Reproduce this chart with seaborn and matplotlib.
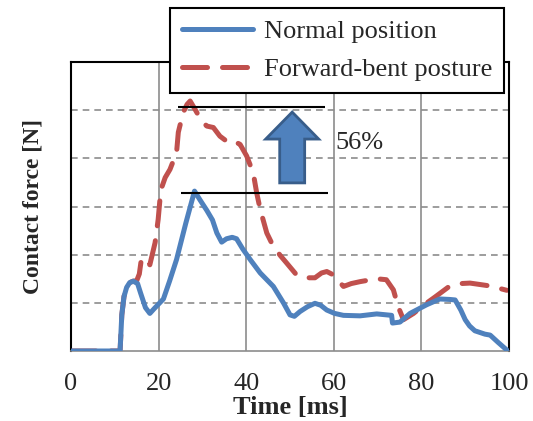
import numpy as np
import pandas as pd
import matplotlib
matplotlib.use("Agg")
import matplotlib.pyplot as plt
import matplotlib.patches as mpatches
import seaborn as sns

# Normal position (values in grid units, axis has no y tick labels)
t_normal = [0, 11.2, 11.6, 12.1, 12.7, 13.4, 14.2, 15.2, 15.9, 17.0, 18.0, 19.0, 21.1,
            22.5, 24.1, 26.2, 28.2, 29.5, 31.0, 32.3, 33.3, 34.4, 35.5, 36.8, 37.8,
            39.2, 40.9, 43.2, 46.2, 48.5, 50.0, 51.0, 52.3, 54.0, 55.7, 57.0, 58.4,
            60.2, 62.2, 66.0, 69.8, 73.2, 73.4, 75.1, 77.4, 79.5, 81.2, 84.2, 86.5,
            87.7, 89.0, 90.0, 91.0, 92.2, 94.5, 95.7, 97.5, 99.5]
f_normal = [0, 0, 0.75, 1.13, 1.32, 1.42, 1.45, 1.40, 1.20, 0.90, 0.78, 0.88, 1.08,
            1.45, 1.90, 2.65, 3.32, 3.13, 2.92, 2.72, 2.45, 2.26, 2.33, 2.36, 2.33,
            2.12, 1.90, 1.62, 1.34, 1.00, 0.75, 0.72, 0.82, 0.92, 0.99, 0.95, 0.85,
            0.78, 0.74, 0.73, 0.77, 0.74, 0.58, 0.60, 0.78, 0.88, 0.96, 1.08, 1.07,
            1.06, 0.85, 0.65, 0.52, 0.42, 0.35, 0.33, 0.18, 0.02]

# Forward-bent posture
t_bent = [0, 11.2, 11.6, 12.1, 12.7, 13.4, 14.2, 15.0, 15.6, 16.1, 17.0, 18.0, 19.2,
          19.9, 20.5, 21.5, 22.6, 24.1, 24.5, 25.6, 26.5, 27.2, 28.3, 29.8, 31.0,
          32.5, 34.0, 35.9, 37.1, 38.6, 40.1, 41.6, 42.4, 43.2, 44.7, 46.2, 47.8,
          49.2, 51.5, 53.5, 55.7, 57.2, 58.4, 59.9, 62.2, 64.0, 66.0, 69.8, 72.0,
          73.6, 74.7, 75.9, 78.2, 80.5, 83.1, 86.5, 89.0, 91.1, 95.7, 99.5]
f_bent = [0, 0, 0.75, 1.13, 1.32, 1.42, 1.45, 1.46, 1.60, 1.93, 1.88, 1.79, 2.25,
          2.73, 3.34, 3.60, 3.77, 4.12, 4.54, 4.95, 5.12, 5.19, 5.02, 4.78, 4.67,
          4.64, 4.46, 4.33, 4.36, 4.29, 4.05, 3.70, 3.28, 2.94, 2.45, 2.17, 1.98,
          1.83, 1.58, 1.52, 1.52, 1.62, 1.65, 1.58, 1.34, 1.40, 1.44, 1.50, 1.48,
          1.27, 0.92, 0.65, 0.78, 0.95, 1.12, 1.35, 1.40, 1.41, 1.35, 1.26]

labels = ["Normal position", "Forward-bent posture"]
blue = "#4F81BD"
red = "#C0504D"

sns.set_style("white")
plt.rcParams["font.family"] = ["Liberation Serif", "DejaVu Serif"]

fig = plt.figure(figsize=(5.33, 4.21), dpi=100)
ax = fig.add_axes([71 / 533, 70 / 421, 438 / 533, 289 / 421])

# grid
for x in [20, 40, 60, 80]:
    ax.axvline(x, color="#8c8c8c", lw=1.2, zorder=0)
for y in [1, 2, 3, 4, 5]:
    ax.axhline(y, color="#8c8c8c", lw=1.2, ls=(0, (4, 3)), zorder=0)

sns.lineplot(x=t_normal, y=f_normal, ax=ax, color=blue, lw=3.6,
             estimator=None, sort=False, label=labels[0], zorder=3)
sns.lineplot(x=t_bent, y=f_bent, ax=ax, color=red, lw=3.6,
             estimator=None, sort=False, label=labels[1], zorder=2)
ax.lines[-1].set_dashes((5, 3))
ax.lines[-1].set_dash_capstyle("round")
ax.lines[-2].set_solid_joinstyle("round")

# peak reference lines, arrow and percent label
ax.hlines(5.06, 24.4, 58.0, color="black", lw=1.5, zorder=4)
ax.hlines(3.28, 25.1, 58.7, color="black", lw=1.5, zorder=4)
arrow = mpatches.FancyArrow(50.5, 3.49, 0, 4.96 - 3.49, width=5.7, head_width=12.1,
                            head_length=0.56, length_includes_head=True,
                            facecolor=blue, edgecolor="#385D8A", lw=2, zorder=5)
ax.add_patch(arrow)
ax.text(60.3, 4.32, "56%", fontsize=19, ha="left", va="center")

ax.set_xlim(0, 100)
ax.set_ylim(0, 6)
ax.set_xticks([0, 20, 40, 60, 80, 100])
ax.set_yticks([])
ax.tick_params(axis="x", labelsize=19, length=0, pad=16)
ax.set_xlabel("Time [ms]", fontsize=19, fontweight="bold", labelpad=0.5)
ax.set_ylabel("Contact force [N]", fontsize=17, fontweight="bold", labelpad=20)

for side in ["left", "top", "right"]:
    ax.spines[side].set_color("black")
    ax.spines[side].set_linewidth(1.5)
ax.spines["bottom"].set_color("#8c8c8c")
ax.spines["bottom"].set_linewidth(1.2)

ax.get_legend().remove()
h, l = ax.get_legend_handles_labels()
leg = fig.legend(h, l, loc="upper right", bbox_to_anchor=(504 / 533, 1 - 8 / 421),
                 bbox_transform=fig.transFigure, fontsize=19, frameon=True,
                 fancybox=False, borderaxespad=0, handlelength=2.7,
                 labelspacing=0.55, borderpad=0.45, handletextpad=0.4)
leg.get_frame().set_edgecolor("black")
leg.get_frame().set_linewidth(1.5)
leg.get_frame().set_alpha(1)

fig.savefig("out.png", dpi=100)
